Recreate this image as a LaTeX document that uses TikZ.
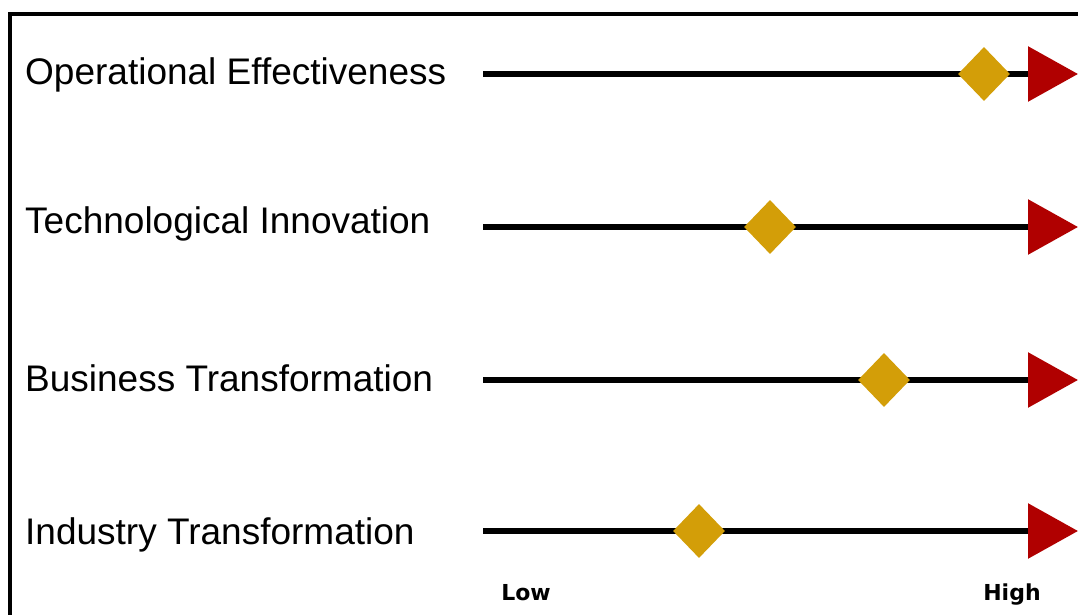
\documentclass[tikz,border=0pt]{standalone}
\usepackage{fontspec}
\setmainfont{Liberation Sans}
\newfontfamily\scalefont{DejaVu Sans}
\usetikzlibrary{shapes.geometric, arrows.meta}
\definecolor{markgold}{RGB}{211,158,8}
\definecolor{tipred}{RGB}{176,0,0}

\begin{document}
\begin{tikzpicture}[x=1pt, y=-1pt,
  rowlabel/.style={anchor=base west, inner sep=0pt, font=\fontsize{37}{40}\selectfont},
  scalelabel/.style={anchor=base, inner sep=0pt, font=\scalefont\bfseries\fontsize{22}{24}\selectfont},
  axis/.style={line width=6pt, -{Triangle[length=50pt, width=54pt, color=tipred]}},
  marker/.style={diamond, fill=markgold, minimum width=52pt, minimum height=54pt, inner sep=0pt}]
\useasboundingbox (0,0) rectangle (1078,615);
\clip (0,0) rectangle (1078,615);

% Frame
\draw[line width=3.5pt] (10,14) rectangle (1120,660);

% Operational effectiveness
\node[rowlabel] (oe) at (25,85) {Operational Effectiveness};
\coordinate (oe-s) at (483,74);
\coordinate (oe-e) at (1078,74);
\draw[axis] (oe-s) -- (oe-e);
\node[marker] (oe-m) at (984,74) {};

% Technological innovation
\node[rowlabel] (ti) at (25,233) {Technological Innovation};
\coordinate (ti-s) at (483,227);
\coordinate (ti-e) at (1078,227);
\draw[axis] (ti-s) -- (ti-e);
\node[marker] (ti-m) at (770,227) {};

% Business transformation
\node[rowlabel] (bt) at (25,391) {Business Transformation};
\coordinate (bt-s) at (483,380);
\coordinate (bt-e) at (1078,380);
\draw[axis] (bt-s) -- (bt-e);
\node[marker] (bt-m) at (884,380) {};

% Industry transformation
\node[rowlabel] (it) at (25,544) {Industry Transformation};
\coordinate (it-s) at (483,531);
\coordinate (it-e) at (1078,531);
\draw[axis] (it-s) -- (it-e);
\node[marker] (it-m) at (699,531) {};

% Scale
\node[scalelabel] (low) at (526,600) {Low};
\node[scalelabel] (high) at (1012,600) {High};

\end{tikzpicture}
\end{document}
